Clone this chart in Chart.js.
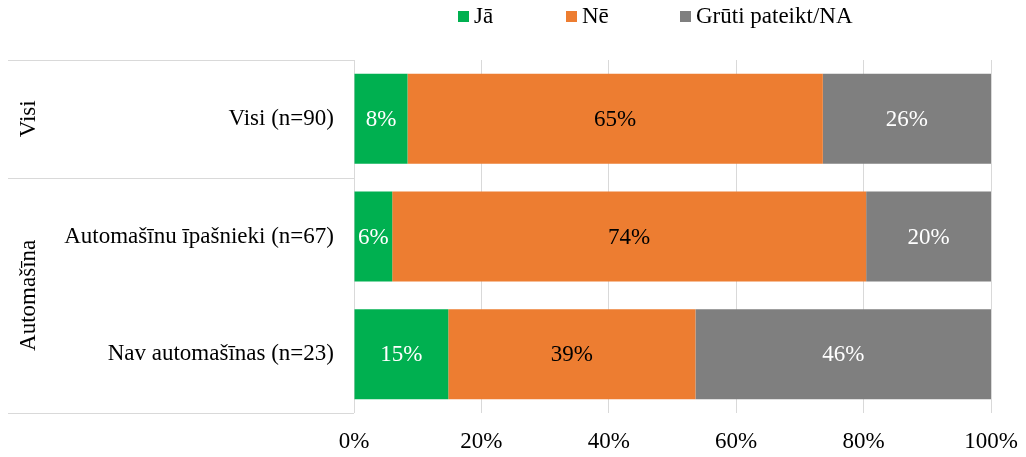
<!DOCTYPE html>
<html>
<head>
<meta charset="utf-8">
<script src="https://cdn.jsdelivr.net/npm/chart.js@4"></script>
<style>
  html, body { margin: 0; padding: 0; background: #fff; }
  #wrap { width: 1026px; height: 457px; }
</style>
</head>
<body>
<div id="wrap"><canvas id="chart"></canvas></div>
<script>
// Categories (top to bottom) and their group labels
const categories = ['Visi (n=90)', 'Automašīnu īpašnieki (n=67)', 'Nav automašīnas (n=23)'];
const groups = [
    { label: 'Visi', from: 0, to: 0 },
    { label: 'Automašīna', from: 1, to: 2 }
];

// Shares (%)
const jaValues = [8.4, 6.0, 14.8];
const neValues = [65.2, 74.4, 38.8];
const grutiValues = [26.4, 19.6, 46.4];

const xTicks = [0, 20, 40, 60, 80, 100];

const FONT = "'Liberation Serif', 'Times New Roman', serif";
const FONT_SIZE = 23;

// Percent labels inside the bar segments
const segmentLabels = {
    id: 'segmentLabels',
    afterDatasetsDraw(chart) {
        const ctx = chart.ctx;
        ctx.save();
        ctx.font = FONT_SIZE + 'px ' + FONT;
        ctx.textAlign = 'center';
        ctx.textBaseline = 'middle';
        chart.data.datasets.forEach((ds, i) => {
            const meta = chart.getDatasetMeta(i);
            meta.data.forEach((bar, j) => {
                const v = ds.data[j];
                const cx = (bar.x + bar.base) / 2;
                ctx.fillStyle = ds.labelColor;
                ctx.fillText(Math.round(v) + '%', cx, bar.y + 1);
            });
        });
        ctx.restore();
    }
};

// Legend row above the plot
const topLegend = {
    id: 'topLegend',
    afterDraw(chart) {
        const ctx = chart.ctx;
        const starts = [458, 566, 680];
        ctx.save();
        ctx.font = FONT_SIZE + 'px ' + FONT;
        ctx.textAlign = 'left';
        ctx.textBaseline = 'middle';
        chart.data.datasets.forEach((ds, i) => {
            const x = starts[i];
            ctx.fillStyle = ds.backgroundColor;
            ctx.fillRect(x, 11, 11, 11);
            ctx.fillStyle = '#000';
            ctx.fillText(ds.label, x + 16, 17);
        });
        ctx.restore();
    }
};

// Group labels and separator lines on the left
const groupAxis = {
    id: 'groupAxis',
    afterDraw(chart) {
        const ctx = chart.ctx;
        const y = chart.scales.y;
        const area = chart.chartArea;
        const half = (y.getPixelForValue(1) - y.getPixelForValue(0)) / 2;
        ctx.save();
        ctx.strokeStyle = '#d9d9d9';
        ctx.lineWidth = 1;
        const lines = [area.top];
        groups.forEach(g => lines.push(Math.round(y.getPixelForValue(g.to) + half)));
        lines.forEach(py => {
            ctx.beginPath();
            ctx.moveTo(8, py + 0.5);
            ctx.lineTo(area.left, py + 0.5);
            ctx.stroke();
        });
        ctx.fillStyle = '#000';
        ctx.font = FONT_SIZE + 'px ' + FONT;
        ctx.textAlign = 'center';
        ctx.textBaseline = 'middle';
        groups.forEach(g => {
            const cy = (y.getPixelForValue(g.from) + y.getPixelForValue(g.to)) / 2;
            ctx.save();
            ctx.translate(29, cy);
            ctx.rotate(-Math.PI / 2);
            ctx.fillText(g.label, 0, 0);
            ctx.restore();
        });
        ctx.restore();
    }
};

new Chart(document.getElementById('chart'), {
    type: 'bar',
    data: {
        labels: categories,
        datasets: [
            { label: 'Jā', data: jaValues, backgroundColor: '#00b050', labelColor: '#ffffff' },
            { label: 'Nē', data: neValues, backgroundColor: '#ed7d31', labelColor: '#000000' },
            { label: 'Grūti pateikt/NA', data: grutiValues, backgroundColor: '#7f7f7f', labelColor: '#ffffff' }
        ]
    },
    options: {
        indexAxis: 'y',
        responsive: true,
        maintainAspectRatio: false,
        animation: false,
        barPercentage: 0.765,
        categoryPercentage: 1,
        layout: { padding: { left: 0, right: 35, top: 60, bottom: 0 } },
        scales: {
            x: {
                stacked: true,
                min: 0,
                max: 100,
                afterBuildTicks: axis => { axis.ticks = xTicks.map(v => ({ value: v })); },
                border: { display: false },
                grid: { color: '#d9d9d9', drawTicks: false },
                ticks: {
                    padding: 15,
                    color: '#000',
                    font: { family: FONT, size: FONT_SIZE },
                    callback: v => v + '%'
                },
                afterFit: axis => {
                    axis.height = 44;
                    axis.paddingLeft = 0;
                    axis.paddingRight = 0;
                }
            },
            y: {
                stacked: true,
                border: { display: false },
                grid: { display: false, drawTicks: false },
                ticks: {
                    padding: 20,
                    color: '#000',
                    font: { family: FONT, size: FONT_SIZE }
                },
                afterFit: axis => { axis.width = 354; }
            }
        },
        plugins: {
            legend: { display: false },
            tooltip: { enabled: false }
        }
    },
    plugins: [segmentLabels, topLegend, groupAxis]
});
</script>
</body>
</html>
